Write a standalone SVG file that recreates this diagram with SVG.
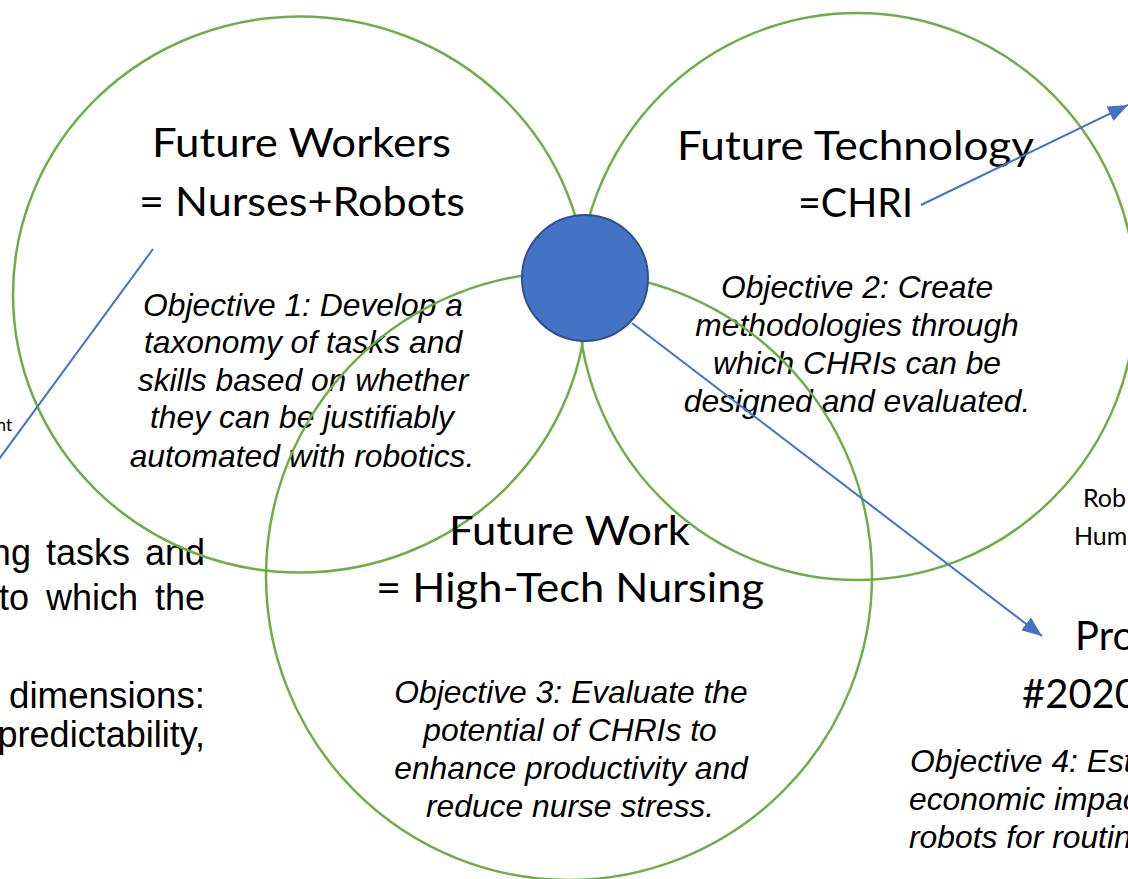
<svg xmlns="http://www.w3.org/2000/svg" width="1128" height="879" viewBox="0 0 1128 879">
  <style>
    .ring { fill: none; stroke: #70AD47; stroke-width: 2.5; }
    .head { font-family: Lato, "Liberation Sans", sans-serif; font-size: 40px; fill: #000; }
    .obj { font-family: "Liberation Sans", Arial, sans-serif; font-size: 31.8px; font-style: italic; fill: #000; text-anchor: middle; }
    .obj.left { text-anchor: start; }
    .body { font-family: "Liberation Sans", Arial, sans-serif; font-size: 36px; fill: #000; text-anchor: end; }
    .small { font-family: Lato, "Liberation Sans", sans-serif; fill: #000; }
    .link { stroke: #4472C4; stroke-width: 2; fill: none; }
  </style>
  <defs>
    <marker id="arrow" markerUnits="userSpaceOnUse" markerWidth="22" markerHeight="16" refX="20" refY="8" orient="auto">
      <path d="M0,0 L20,8 L0,16 Z" fill="#4472C4"/>
    </marker>
  </defs>
  <rect width="1128" height="879" fill="#fff"/>

  <!-- side text, partly outside the frame -->
  <g id="left-notes">
    <text class="small" x="12" y="431" font-size="17" text-anchor="end">nt</text>
    <text class="body" x="205" y="565" word-spacing="5">ng tasks and</text>
    <text class="body" x="205" y="610" word-spacing="7">to which the</text>
    <text class="body" x="205" y="708" textLength="196" lengthAdjust="spacingAndGlyphs">dimensions:</text>
    <text class="body" x="205" y="747">predictability,</text>
  </g>

  <g id="right-notes">
    <text class="small" x="1083" y="507" font-size="25">Rob</text>
    <text class="small" x="1074" y="545" font-size="25">Hum</text>
    <text class="head" x="1075" y="650">Pro</text>
    <text class="head" x="1022" y="708">#2020</text>
    <text class="obj left" x="910" y="772">Objective 4: Est</text>
    <text class="obj left" x="909" y="810">economic impac</text>
    <text class="obj left" x="909" y="848">robots for routin</text>
  </g>

  <!-- Future Workers -->
  <g id="future-workers">
    <text class="head" x="152" y="157" textLength="299" lengthAdjust="spacingAndGlyphs">Future Workers</text>
    <text class="head" x="139" y="216" textLength="326" lengthAdjust="spacingAndGlyphs">= Nurses+Robots</text>
    <text class="obj" x="303" y="316">Objective 1: Develop a</text>
    <text class="obj" x="303" y="353">taxonomy of tasks and</text>
    <text class="obj" x="303" y="391">skills based on whether</text>
    <text class="obj" x="302" y="428">they can be justifiably</text>
    <text class="obj" x="302" y="467">automated with robotics.</text>
    <ellipse class="ring" cx="300" cy="294.5" rx="287" ry="278"/>
  </g>

  <!-- Future Technology -->
  <g id="future-technology">
    <text class="head" x="677" y="160" textLength="357" lengthAdjust="spacingAndGlyphs">Future Technology</text>
    <text class="head" x="798" y="217" textLength="115" lengthAdjust="spacingAndGlyphs">=CHRI</text>
    <text class="obj" x="857" y="298">Objective 2: Create</text>
    <text class="obj" x="857" y="336">methodologies through</text>
    <text class="obj" x="857" y="374">which CHRIs can be</text>
    <text class="obj" x="857" y="412">designed and evaluated.</text>
    <ellipse class="ring" cx="857" cy="296.5" rx="279" ry="283.5"/>
  </g>

  <!-- Future Work -->
  <g id="future-work">
    <text class="head" x="449" y="545" textLength="241" lengthAdjust="spacingAndGlyphs">Future Work</text>
    <text class="head" x="376" y="602" textLength="388" lengthAdjust="spacingAndGlyphs">= High-Tech Nursing</text>
    <text class="obj" x="571" y="703">Objective 3: Evaluate the</text>
    <text class="obj" x="570" y="741">potential of CHRIs to</text>
    <text class="obj" x="571" y="779">enhance productivity and</text>
    <text class="obj" x="570" y="817">reduce nurse stress.</text>
    <ellipse class="ring" cx="569" cy="576" rx="303" ry="304"/>
  </g>

  <!-- connectors -->
  <g id="connectors">
    <line class="link" x1="153" y1="249" x2="-20" y2="485"/>
    <line class="link" x1="921" y1="205" x2="1128" y2="105" marker-end="url(#arrow)"/>
    <line class="link" x1="632" y1="323" x2="1042" y2="636" marker-end="url(#arrow)"/>
  </g>

  <!-- central hub -->
  <g id="hub">
    <circle cx="585" cy="278" r="63" fill="#4472C4" stroke="#2F528F" stroke-width="2"/>
  </g>
</svg>
